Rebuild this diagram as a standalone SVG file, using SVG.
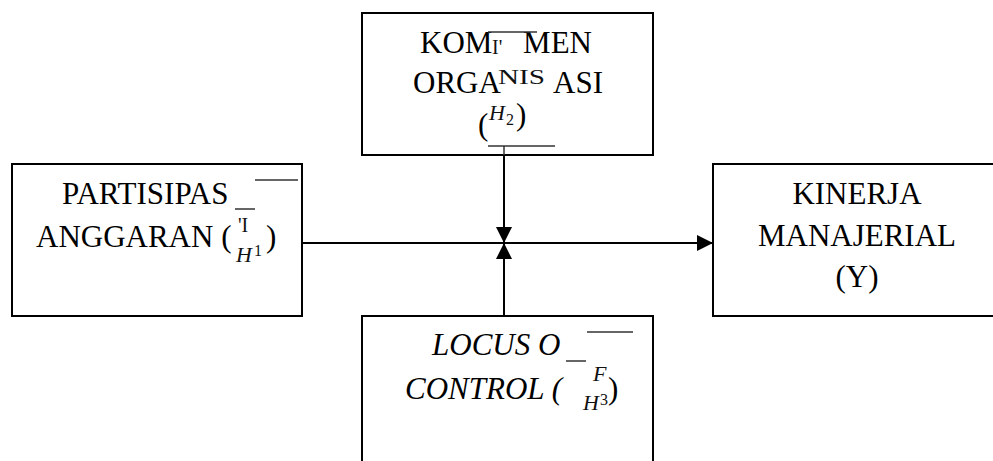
<svg xmlns="http://www.w3.org/2000/svg" width="993" height="461" viewBox="0 0 993 461">
  <style>
    .box { fill: #ffffff; stroke: #000000; stroke-width: 2; }
    .link { stroke: #000000; stroke-width: 2; fill: none; }
    .bar { stroke: #333333; stroke-width: 1.5; }
    .t { font-family: "Liberation Serif", "Times New Roman", serif; font-size: 31px; fill: #000000; }
    .it { font-style: italic; }
    .sm { font-family: "Liberation Serif", "Times New Roman", serif; font-size: 20px; fill: #111111; }
    .mi { font-family: "Liberation Serif", "Times New Roman", serif; font-style: italic; font-size: 22px; fill: #111111; }
    .mn { font-family: "Liberation Serif", "Times New Roman", serif; font-size: 16px; fill: #111111; }
  </style>
  <defs>
    <marker id="arrow" viewBox="0 0 16 16" refX="16" refY="8" markerWidth="16" markerHeight="16" markerUnits="userSpaceOnUse" orient="auto">
      <path d="M0,0 L16,8 L0,16 Z" fill="#000000"/>
    </marker>
  </defs>
  <rect width="993" height="461" fill="#ffffff"/>

  <g id="connectors">
    <line class="link" x1="302" y1="243" x2="713" y2="243" marker-end="url(#arrow)"/>
    <line class="link" x1="504" y1="155" x2="504" y2="243" marker-end="url(#arrow)"/>
    <line class="link" x1="504" y1="316" x2="504" y2="243" marker-end="url(#arrow)"/>
  </g>

  <g id="komitmen-organisasi">
    <rect class="box" x="362" y="13" width="291" height="142"/>
    <text class="t" x="420" y="53">KOM</text>
    <text class="t" x="592" y="53" text-anchor="end">MEN</text>
    <text class="sm" x="492" y="54" font-size="16">I'</text>
    <line class="bar" x1="488" y1="32" x2="537" y2="32"/>
    <text class="t" x="413" y="93">ORGA</text>
    <text class="t" x="603" y="93" text-anchor="end">ASI</text>
    <text class="sm" x="498" y="84" textLength="47" lengthAdjust="spacingAndGlyphs">NIS</text>
    <text class="t" x="478" y="135">(</text>
    <text class="mi" x="489" y="120">H</text>
    <text class="mn" x="506" y="125">2</text>
    <text class="t" x="516" y="125">)</text>
    <line class="bar" x1="488" y1="146" x2="555" y2="146"/>
    <line class="bar" x1="504" y1="146" x2="504" y2="155"/>
  </g>

  <g id="partisipasi-anggaran">
    <rect class="box" x="12" y="164" width="290" height="152"/>
    <text class="t" x="62" y="204">PARTISIPAS</text>
    <line class="bar" x1="235" y1="209" x2="255" y2="209"/>
    <line class="bar" x1="255" y1="180" x2="298" y2="180"/>
    <text class="t" x="36" y="247">ANGGARAN (</text>
    <text class="sm" x="238" y="232">'I</text>
    <text class="mi" x="236" y="262">H</text>
    <text class="mn" x="254" y="256">1</text>
    <text class="t" x="266" y="247">)</text>
  </g>

  <g id="locus-of-control">
    <rect class="box" x="362" y="316" width="291" height="160"/>
    <text class="t it" x="432" y="355">LOCUS O</text>
    <line class="bar" x1="566" y1="361" x2="586" y2="361"/>
    <line class="bar" x1="587" y1="332" x2="633" y2="332"/>
    <text class="t it" x="405" y="399">CONTROL (</text>
    <text class="mi" x="593" y="381" font-size="18">F</text>
    <text class="mi" x="583" y="410" font-size="18">H</text>
    <text class="mn" x="600" y="405" font-size="13">3</text>
    <text class="t" x="608" y="399">)</text>
  </g>

  <g id="kinerja-manajerial">
    <rect class="box" x="713" y="164" width="290" height="152"/>
    <text class="t" x="857" y="204" text-anchor="middle">KINERJA</text>
    <text class="t" x="857" y="246" text-anchor="middle">MANAJERIAL</text>
    <text class="t" x="857" y="287" text-anchor="middle">(Y)</text>
  </g>
</svg>
